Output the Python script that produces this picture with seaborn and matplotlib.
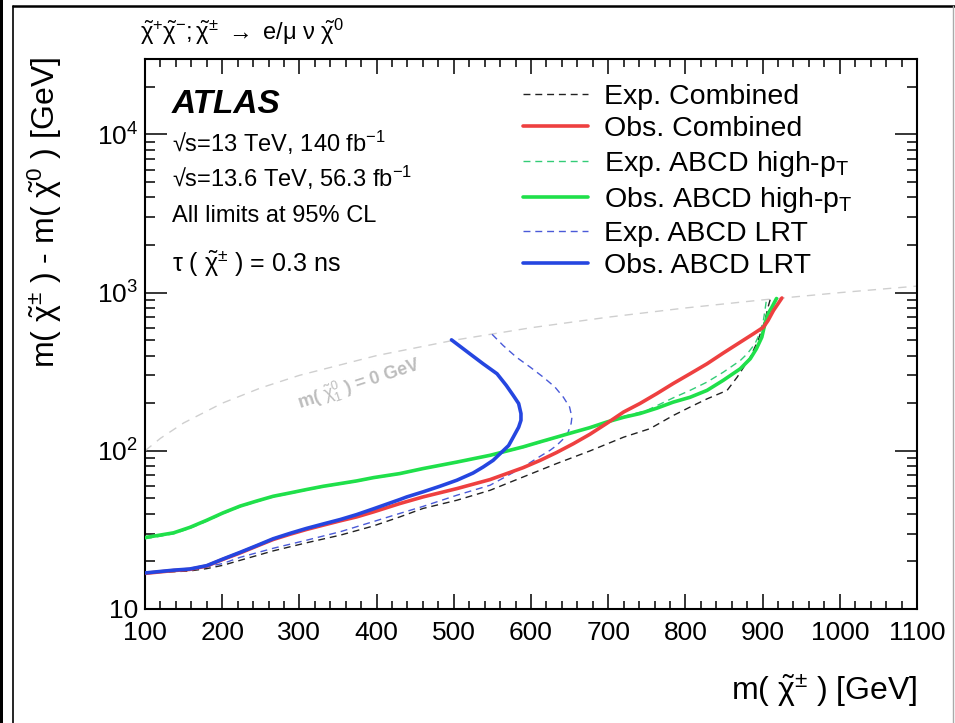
import numpy as np
import matplotlib
matplotlib.use("Agg")
import matplotlib.pyplot as plt
import seaborn as sns
import pandas as pd
from matplotlib.lines import Line2D
from matplotlib.patches import Rectangle
from matplotlib.ticker import MultipleLocator, LogLocator, NullFormatter

# ---------------- data ----------------
EXP_COMB_X = [100, 137, 158, 180, 201, 223, 266, 309, 353, 395, 430, 460, 504, 547, 590, 633, 676, 720,
              754, 784, 806, 828, 854, 867, 884, 894, 903, 907, 910]
EXP_COMB_Y = [17.0, 17.2, 17.4, 18.0, 18.9, 20.3, 23.3, 26.2, 29.3, 33.4, 38.2, 43.2, 48.7, 56.3, 68.4, 83.0, 99.7, 122,
              138, 167, 189, 213, 241, 292, 391, 498, 666, 808, 910]

OBS_COMB_X = [100, 137, 158, 180, 201, 223, 245, 266, 288, 309, 331, 353, 374, 396, 430, 460, 504, 547, 590, 612,
              633, 655, 676, 698, 720, 741, 763, 784, 806, 828, 849, 871, 888, 901, 907, 914, 925]
OBS_COMB_Y = [16.8, 17.5, 17.8, 18.7, 20.6, 22.6, 25.0, 27.5, 29.7, 31.8, 33.9, 36.1, 38.2, 41.1, 46.4, 51.1, 57.7, 65.8, 78.3, 87.1,
              97.5, 111, 127, 149, 176, 199, 230, 266, 307, 355, 415, 486, 549, 604, 666, 770, 925]

EXP_HPT_X = [100, 119, 137, 158, 180, 201, 223, 245, 266, 288, 309, 331, 353, 374, 396, 430, 460, 504, 547, 590,
             633, 676, 720, 750, 784, 806, 828, 849, 871, 880, 890, 896, 901, 903, 905]
EXP_HPT_Y = [27.8, 28.8, 29.9, 32.3, 35.9, 40.0, 44.2, 47.7, 51.1, 53.7, 56.4, 59.2, 61.6, 64.0, 67.2, 71.3, 76.7, 84.4, 93.2, 105,
             121, 141, 165, 180, 216, 241, 272, 314, 372, 410, 474, 549, 666, 770, 905]

OBS_HPT_X = [100, 119, 137, 158, 180, 201, 223, 245, 266, 288, 309, 331, 353, 374, 396, 430, 460, 504, 547, 590,
             612, 633, 655, 676, 698, 720, 741, 763, 784, 806, 828, 849, 871, 884, 892, 899, 903, 907, 912, 918]
OBS_HPT_Y = [28.3, 29.3, 30.3, 32.8, 36.4, 40.5, 44.7, 48.2, 51.6, 54.2, 56.9, 59.7, 62.1, 64.5, 67.7, 71.8, 77.2, 84.9, 93.7, 106,
             114, 122, 131, 140, 152, 163, 172, 186, 203, 218, 241, 279, 330, 382, 442, 523, 635, 734, 808, 918]

EXP_LRT_X = [100, 158, 201, 223, 266, 309, 353, 395, 430, 460, 504, 547, 590, 607, 625, 633, 642, 648, 652, 653,
             650, 642, 631, 616, 599, 581, 564, 549]
EXP_LRT_Y = [17.0, 17.6, 19.4, 21.2, 24.2, 27.2, 30.8, 35.6, 40.2, 44.5, 52.4, 60.6, 79.0, 89.3, 101, 108, 119, 131, 149, 163,
             189, 218, 253, 292, 338, 391, 463, 549]

OBS_LRT_X = [100, 137, 158, 180, 201, 223, 245, 266, 288, 309, 331, 353, 374, 396, 430, 439, 460, 482, 504, 525,
             538, 551, 560, 571, 577, 584, 587, 587, 584, 577, 568, 556, 538, 521, 497]
OBS_LRT_Y = [16.9, 17.6, 17.9, 18.8, 20.7, 22.8, 25.2, 27.8, 30.1, 32.3, 34.5, 36.8, 39.5, 43.0, 49.2, 51.1, 55.0, 59.7, 65.2, 72.4,
             79.0, 87.1, 96.0, 108, 122, 141, 156, 172, 199, 224, 259, 307, 355, 410, 503]

# kinematic limit m(chi0)=0  ->  delta m = m(chi+-)
KIN_MASS = [100, 120, 150, 200, 250, 300, 400, 500, 600, 700, 800, 900, 1000, 1100]

LABELS = ["Exp. Combined", "Obs. Combined",
          r"Exp. ABCD high-p$_{\mathrm{T}}$", r"Obs. ABCD high-p$_{\mathrm{T}}$",
          "Exp. ABCD LRT", "Obs. ABCD LRT"]

X_TICKS = [100, 200, 300, 400, 500, 600, 700, 800, 900, 1000, 1100]
X_TICK_LABELS = ["100", "200", "300", "400", "500", "600", "700", "800", "900", "1000", "1100"]
Y_TICKS = [10, 100, 1000, 10000]
Y_TICK_LABELS = ["10", r"$10^{2}$", r"$10^{3}$", r"$10^{4}$"]

# ---------------- style ----------------
sns.set_theme(style="white")
plt.rcParams['font.family'] = ['Liberation Sans', 'DejaVu Sans']
plt.rcParams['mathtext.fontset'] = 'custom'
plt.rcParams['mathtext.rm'] = 'Liberation Sans'
plt.rcParams['mathtext.it'] = 'Liberation Sans'
plt.rcParams['mathtext.bf'] = 'Liberation Sans:bold'
plt.rcParams['mathtext.sf'] = 'Liberation Sans'
plt.rcParams['mathtext.fallback'] = 'stixsans'
plt.rcParams['text.color'] = 'black'
plt.rcParams['axes.labelcolor'] = 'black'

W, H = 955, 723
fig = plt.figure(figsize=(W / 100, H / 100), dpi=100)
fig.patch.set_facecolor('white')
AX_L, AX_R, AX_T, AX_B = 145, 917, 59, 609
ax = fig.add_axes([AX_L / W, 1 - AX_B / H, (AX_R - AX_L) / W, (AX_B - AX_T) / H])
ax.set_facecolor('white')

C_RED = "#ee4040"
C_GREEN = "#1fe04a"
C_BLUE = "#2546e0"
C_GDASH = "#33cc77"
C_BDASH = "#4a5ad8"


def draw(xs, ys, color, lw, ls, label, z):
    df = pd.DataFrame({"x": xs, "y": ys})
    sns.lineplot(data=df, x="x", y="y", sort=False, estimator=None, color=color,
                 linewidth=lw, linestyle=ls, label=label, ax=ax, zorder=z)


# kinematic line
df_k = pd.DataFrame({"x": KIN_MASS, "y": KIN_MASS})
sns.lineplot(data=df_k, x="x", y="y", sort=False, estimator=None, color="#cfcfcf",
             linewidth=1.0, linestyle=(0, (6, 5)), ax=ax, zorder=1, legend=False)

DASH = (0, (5, 3.5))
draw(EXP_COMB_X, EXP_COMB_Y, "#222222", 1.0, DASH, LABELS[0], 3)
draw(EXP_HPT_X, EXP_HPT_Y, C_GDASH, 1.0, DASH, LABELS[2], 3)
draw(EXP_LRT_X, EXP_LRT_Y, C_BDASH, 1.0, DASH, LABELS[4], 3)
draw(OBS_HPT_X, OBS_HPT_Y, C_GREEN, 2.6, '-', LABELS[3], 4)
draw(OBS_COMB_X, OBS_COMB_Y, C_RED, 2.6, '-', LABELS[1], 5)
draw(OBS_LRT_X, OBS_LRT_Y, C_BLUE, 2.6, '-', LABELS[5], 6)
for ln in ax.lines:
    ln.set_solid_joinstyle('round')
    ln.set_solid_capstyle('round')

# ---------------- axes ----------------
ax.set_yscale('log')
ax.set_xlim(100, 1100)
ax.set_ylim(10, 3e4)
ax.set_xticks(X_TICKS, labels=X_TICK_LABELS)
ax.set_yticks(Y_TICKS, labels=Y_TICK_LABELS)
ax.xaxis.set_minor_locator(MultipleLocator(20))
ax.yaxis.set_minor_locator(LogLocator(base=10, subs=np.arange(2, 10)))
ax.yaxis.set_minor_formatter(NullFormatter())
ax.tick_params(which='both', direction='in', top=True, right=True, bottom=True, left=True,
               width=1.1, color='black', labelcolor='black')
ax.tick_params(axis='y', which='major', length=16, labelsize=19, pad=5)
ax.tick_params(axis='y', which='minor', length=7)
ax.tick_params(axis='x', which='major', length=11, labelsize=19, pad=9)
ax.tick_params(axis='x', which='minor', length=6)
for s in ax.spines.values():
    s.set_visible(True)
    s.set_linewidth(1.5)
    s.set_color('black')

ax.set_xlabel(r"m( $\tilde{\chi}^{\pm}$ ) [GeV]", fontsize=23, loc='right')
ax.xaxis.set_label_coords(1.0, (AX_B - 700) / (AX_B - AX_T))
ax.xaxis.label.set_verticalalignment('baseline')
ax.set_ylabel(r"m( $\tilde{\chi}^{\pm}$ ) - m( $\tilde{\chi}^{0}$ ) [GeV]", fontsize=23, loc='top')
ax.yaxis.set_label_coords((64 - AX_L) / (AX_R - AX_L), 1.004)

# ---------------- legend ----------------
handles, labels = ax.get_legend_handles_labels()
hmap = dict(zip(labels, handles))
leg = ax.legend([hmap[l] for l in LABELS], LABELS, loc='upper left',
                bbox_to_anchor=((523 - AX_L) / (AX_R - AX_L), (AX_B - 84) / (AX_B - AX_T)),
                frameon=False, fontsize=20.5, handlelength=2.3, handletextpad=0.55,
                labelspacing=0.22, borderpad=0, borderaxespad=0)

# ---------------- texts ----------------
def fp(px, py):
    return px / W, 1 - py / H

fig.text(*fp(140, 40), r"$\tilde{\chi}^{+}\tilde{\chi}^{-}$;$\,\tilde{\chi}^{\pm}$ $\rightarrow$ e/$\mu$ $\nu$ $\tilde{\chi}^{0}$",
         fontsize=17, ha='left', va='baseline')
fig.text(*fp(172, 113), "ATLAS", fontsize=24, fontweight='bold', fontstyle='italic',
         ha='left', va='baseline')
fig.text(*fp(172, 152), "√s=13 TeV, 140 fb$^{-1}$", fontsize=17, ha='left', va='baseline')
fig.text(*fp(172, 187), "√s=13.6 TeV, 56.3 fb$^{-1}$", fontsize=17, ha='left', va='baseline')
fig.text(*fp(172, 222), "All limits at 95% CL", fontsize=17, ha='left', va='baseline')
fig.text(*fp(172, 271), r"$\tau$ ( $\tilde{\chi}^{\pm}$ ) = 0.3 ns", fontsize=18, ha='left', va='baseline')

ax.text(378, 262, r"m( $\tilde{\chi}_{1}^{0}$ ) = 0 GeV", color="#bdbdbd", fontsize=13,
        fontweight='bold', rotation=18, ha='center', va='center', rotation_mode='anchor', zorder=2)

# ---------------- outer frame ----------------
fig.add_artist(Rectangle((0, 0), 2.5 / W, 1, transform=fig.transFigure, color='black', lw=0))
fig.add_artist(Line2D([13 / W, 13 / W], [0, 1 - 6 / H], transform=fig.transFigure, color='black', lw=1.2))
fig.add_artist(Line2D([13 / W, 1], [1 - 6 / H, 1 - 6 / H], transform=fig.transFigure, color='black', lw=1.8))
fig.add_artist(Line2D([953 / W, 953 / W], [0, 1 - 6 / H], transform=fig.transFigure, color='#aaaaaa', lw=1))

fig.savefig("out.png", dpi=100, facecolor='white')
